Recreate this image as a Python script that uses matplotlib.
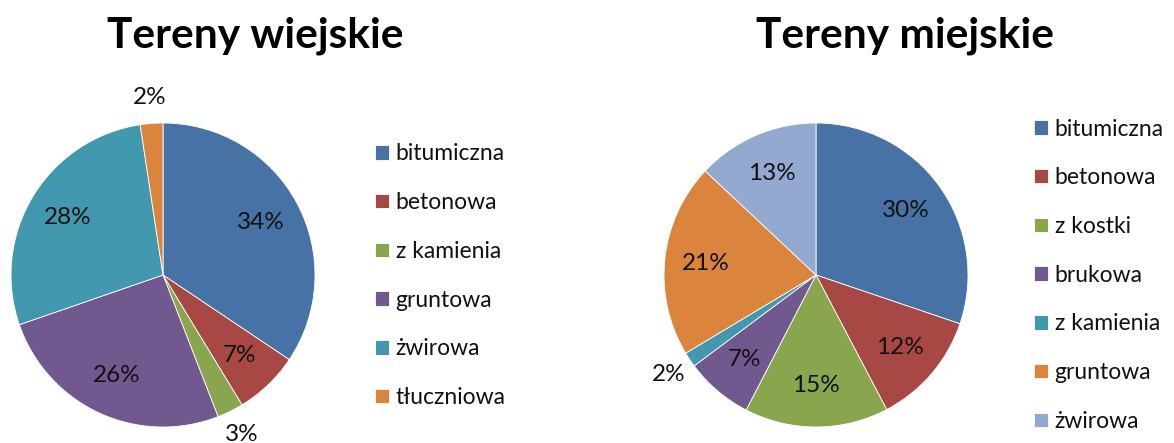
import matplotlib
matplotlib.use("Agg")
import matplotlib.pyplot as plt
import math

plt.rcParams['font.family'] = ['Lato', 'DejaVu Sans']

W, H = 1174, 443
DPI = 100

# --- data ---
rural_title = "Tereny wiejskie"
rural_cats = ["bitumiczna", "betonowa", "z kamienia", "gruntowa", "żwirowa", "tłuczniowa"]
rural_vals = [34.4, 6.9, 2.8, 25.6, 27.9, 2.4]
rural_colors = ["#4672A6", "#A84845", "#89A54D", "#71598F", "#4298AF", "#DB843D"]

urban_title = "Tereny miejskie"
urban_cats = ["bitumiczna", "betonowa", "z kostki", "brukowa", "z kamienia", "gruntowa", "żwirowa"]
urban_vals = [30.2, 12.1, 15.3, 7.2, 1.6, 20.6, 13.0]
urban_colors = ["#4672A6", "#A84845", "#89A54D", "#71598F", "#4298AF", "#DB843D", "#93A9CF"]

fig = plt.figure(figsize=(W / DPI, H / DPI), dpi=DPI)
fig.patch.set_facecolor("white")

def px_axes(cx, cy, r):
    return fig.add_axes([(cx - r) / W, (H - cy - r) / H, 2 * r / W, 2 * r / H])

def draw_pie(ax, vals, colors, outside_thresh=4.0):
    total = sum(vals)
    wedges, _ = ax.pie(vals, colors=colors, startangle=90, counterclock=False,
                       radius=1.0, wedgeprops=dict(edgecolor="white", linewidth=0.6))
    for w, v in zip(wedges, vals):
        pct = round(100 * v / total)
        ang = math.radians((w.theta1 + w.theta2) / 2)
        d = 0.73 if v >= outside_thresh else 1.17
        ax.text(d * math.cos(ang), d * math.sin(ang), f"{pct}%",
                ha="center", va="center", fontsize=17.5, color="#111111")
    ax.set_xlim(-1, 1)
    ax.set_ylim(-1, 1)
    ax.set_aspect("equal")
    ax.axis("off")
    return wedges

ax1 = px_axes(163, 275, 152)
w1 = draw_pie(ax1, rural_vals, rural_colors)
ax2 = px_axes(816, 275, 152)
w2 = draw_pie(ax2, urban_vals, urban_colors)

fig.text(255 / W, 1 - 36 / H, rural_title, ha="center", va="center",
         fontsize=30.5, fontweight="bold", color="black")
fig.text(905 / W, 1 - 36 / H, urban_title, ha="center", va="center",
         fontsize=30.5, fontweight="bold", color="black")

leg_kw = dict(frameon=False, fontsize=16.5, handlelength=0.6, handleheight=0.6,
              handletextpad=0.3, labelspacing=1.21, borderpad=0, borderaxespad=0,
              labelcolor="#111111")
fig.legend(w1, rural_cats, loc="upper left",
           bbox_to_anchor=(375 / W, 1 - 143.5 / H), **leg_kw)
fig.legend(w2, urban_cats, loc="upper left",
           bbox_to_anchor=(1034 / W, 1 - 118.5 / H), **leg_kw)

fig.savefig("out.png", dpi=DPI, facecolor="white")
